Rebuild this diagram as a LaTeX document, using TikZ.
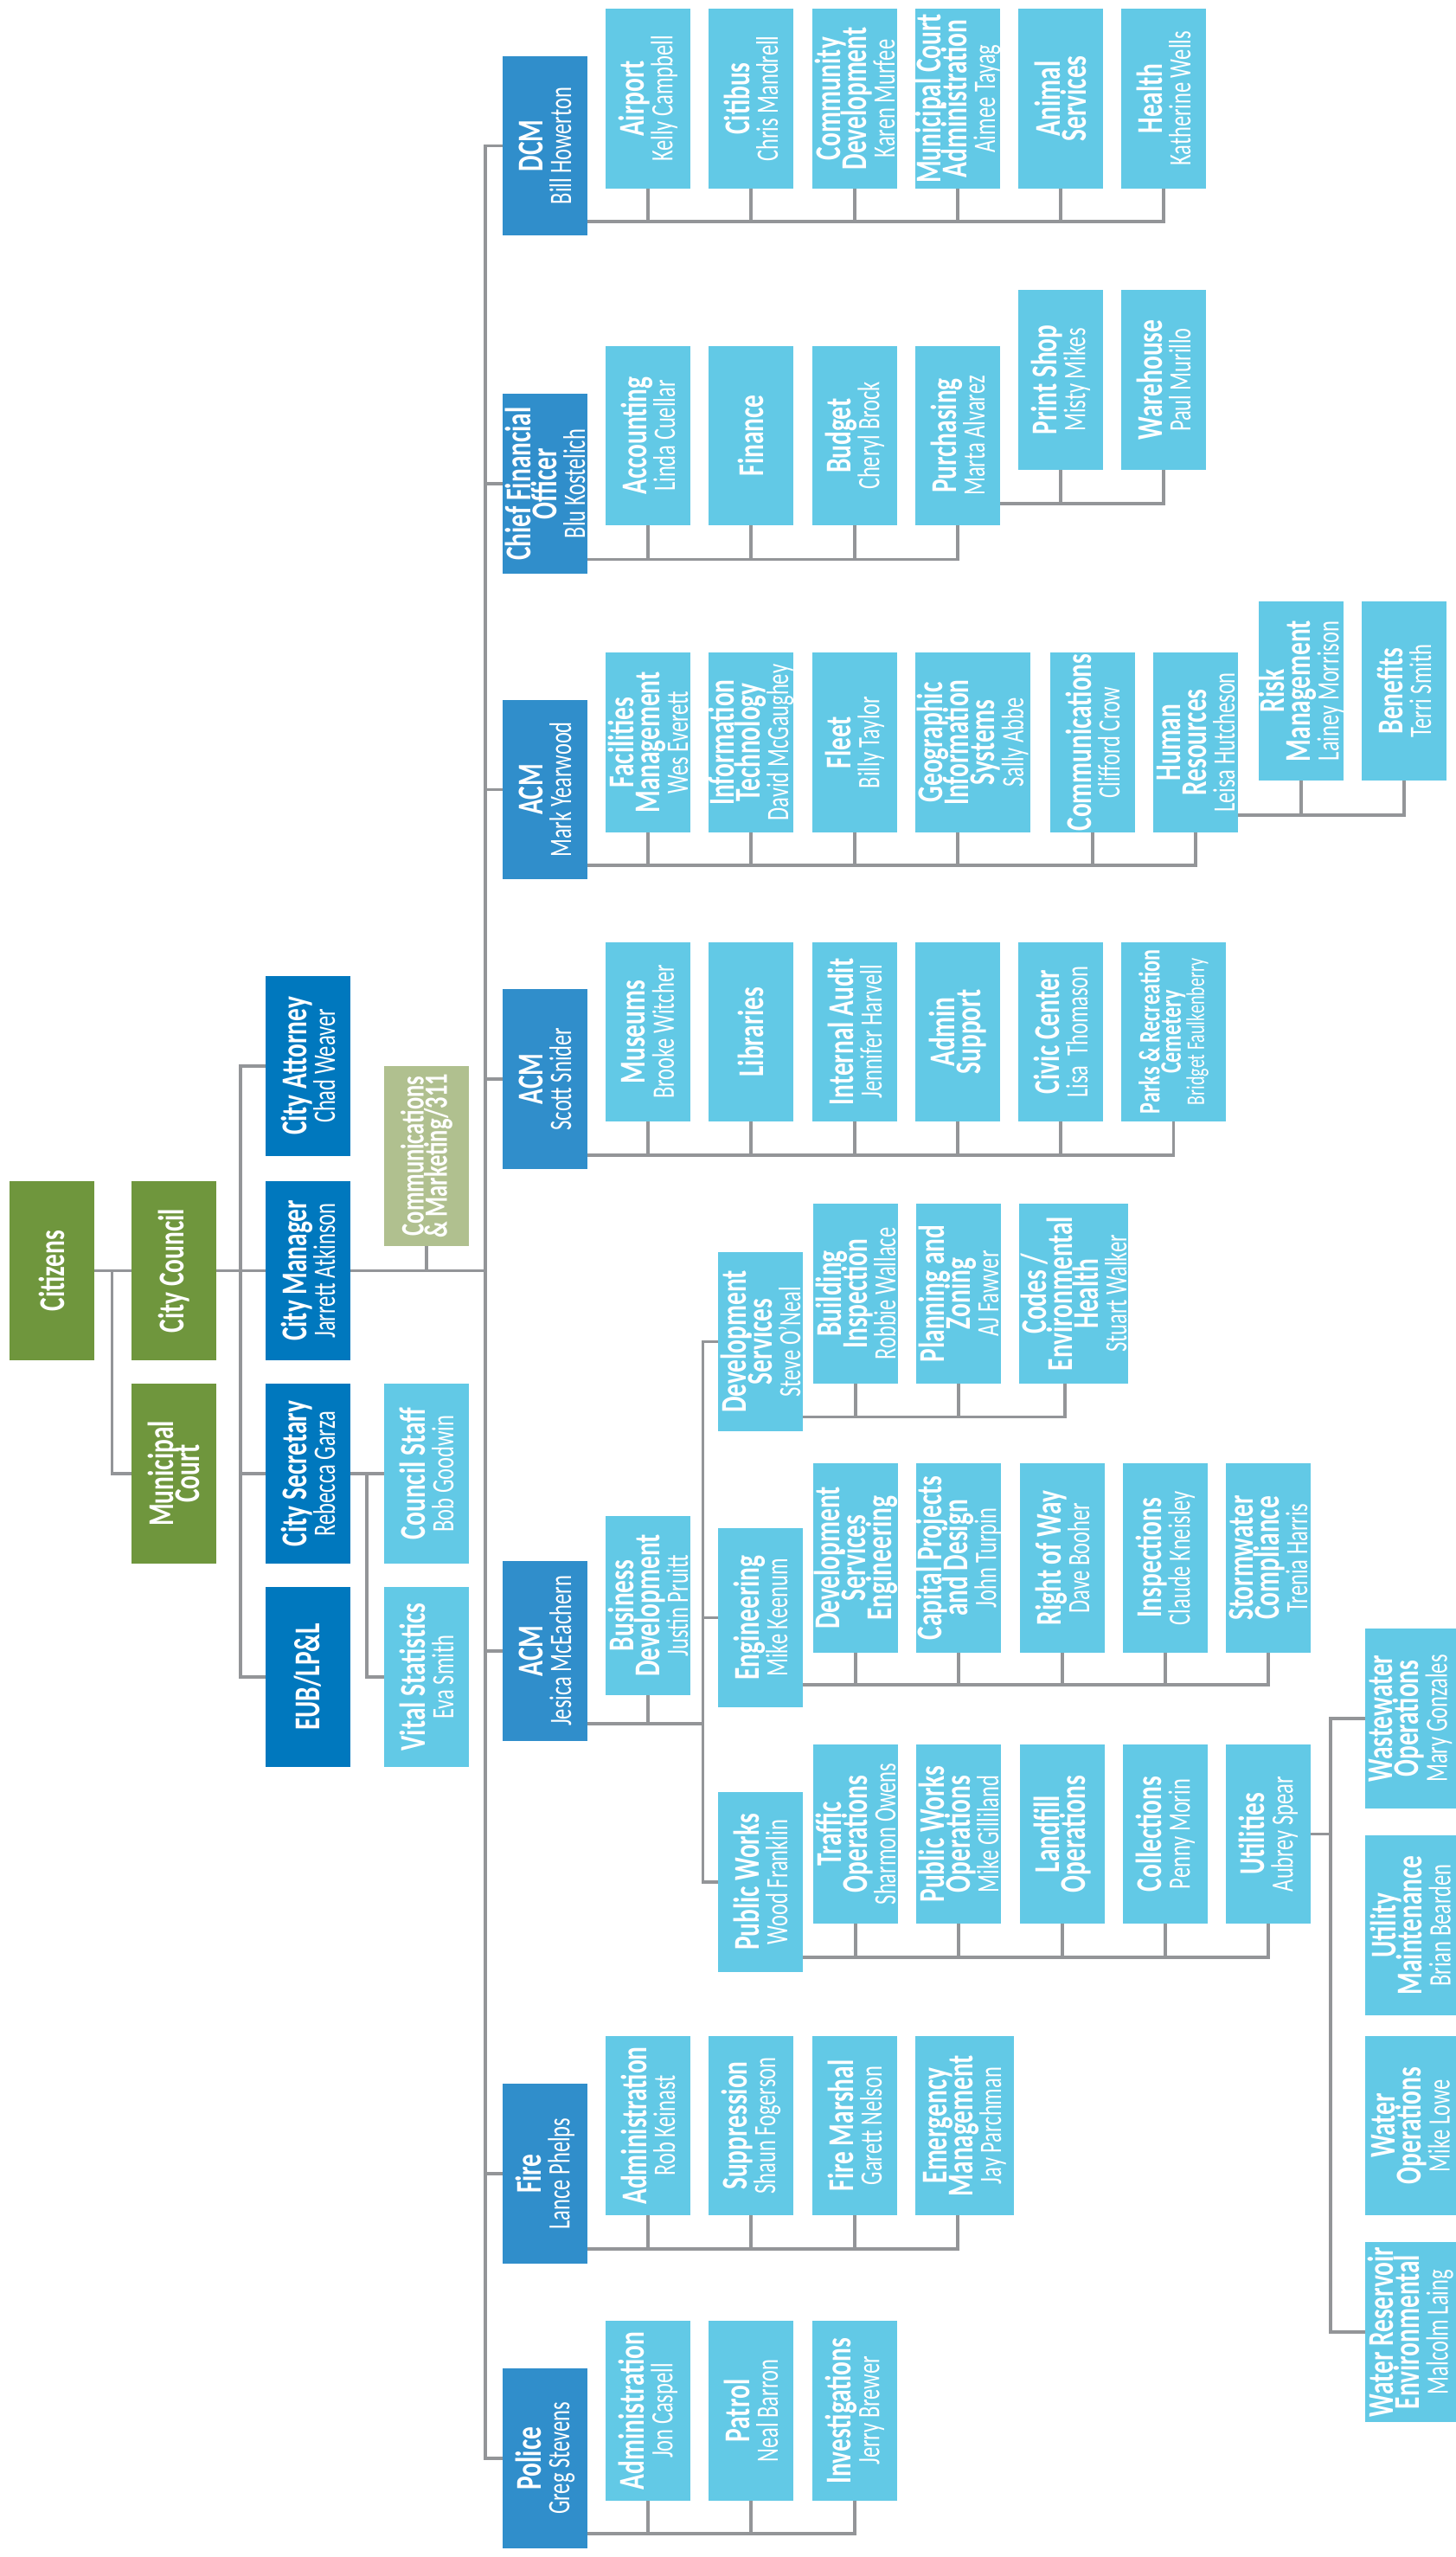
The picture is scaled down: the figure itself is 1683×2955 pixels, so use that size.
\documentclass[tikz,border=0pt]{standalone}
\usepackage{fontspec}
\setmainfont{Carlito}
\newfontfamily\titlefam{Carlito}[FakeStretch=0.70]
\newfontfamily\namefam{Carlito}[FakeStretch=0.68]
\definecolor{cgreen}{RGB}{111,150,61}
\definecolor{cdark}{RGB}{0,120,190}
\definecolor{cmid}{RGB}{48,142,203}
\definecolor{clight}{RGB}{98,201,230}
\definecolor{csage}{RGB}{176,192,143}
\definecolor{cline}{RGB}{147,149,152}
\newcommand\T[1]{{\titlefam\bfseries\fontsize{42}{30}\selectfont #1}}
\newcommand\namesize{\namefam\fontsize{36}{30}\selectfont\lineskiplimit=-100pt\relax\lineskip=0pt\relax}
\pgfdeclarelayer{bg}
\pgfsetlayers{bg,main}
\tikzset{
  box/.style={rectangle, inner sep=0pt, outer sep=0pt},
  gbox/.style={box, fill=cgreen},
  dbox/.style={box, fill=cdark},
  mbox/.style={box, fill=cmid},
  lbox/.style={box, fill=clight},
  sbox/.style={box, fill=csage},
  txt/.style={rotate=90, align=center, text=white, inner sep=0pt, font=\namesize},
  ln/.style={draw=cline, line width=3.5pt},
}
\newcommand\bx[8][]{%
  \node[#3, minimum width=#6pt-#4pt, minimum height=#7pt-#5pt] (#2) at ({(#4+#6)/2},{(#5+#7)/2}) {};
  \node[txt,#1] (#2-t) at (#2.center) {#8};}
\newcommand\bus[4]{%
  \coordinate (#1-bus) at ([yshift=#2pt]#1.south east);
  \draw[ln] (#1-bus) -| (#3);
  \foreach \p in {#4} \draw[ln] (\p) -- (\p |- #1-bus);}
\begin{document}
\begin{tikzpicture}[x=1pt,y=-1pt]
\useasboundingbox (0,0) rectangle (1683,2955);
% ---------- left part
\bx{citizens}{gbox}{11}{1365}{109}{1572}{\T{Citizens}}
\bx{council}{gbox}{152}{1365}{250}{1572}{\T{City Council}}
\bx{mcourt}{gbox}{152}{1599}{250}{1807}{\T{Municipal}\\\T{Court}}
\bx{attorney}{dbox}{307}{1128}{405}{1336}{\T{City Attorney}\\[3pt]Chad Weaver}
\bx{manager}{dbox}{307}{1365}{405}{1572}{\T{City Manager}\\[3pt]Jarrett Atkinson}
\bx{secretary}{dbox}{307}{1599}{405}{1807}{\T{City Secretary}\\[3pt]Rebecca Garza}
\bx{eub}{dbox}{307}{1834}{405}{2042}{\T{EUB/LP\&L}}
\bx[scale=0.9]{comm}{sbox}{444}{1232}{542}{1440}{\T{Communications}\\\T{\& Marketing/311}}
\bx{cstaff}{lbox}{444}{1599}{542}{1807}{\T{Council Staff}\\[3pt]Bob Goodwin}
\bx{vital}{lbox}{444}{1834}{542}{2042}{\T{Vital Statistics}\\[3pt]Eva Smith}
% ---------- level 3
\bx{dcm}{mbox}{581}{65}{679}{272}{\T{DCM}\\[3pt]Bill Howerton}
\bx{cfo}{mbox}{581}{455}{679}{663}{\T{Chief Financial}\\\T{Officer}\\[3pt]Blu Kostelich}
\bx{acma}{mbox}{581}{809}{679}{1016}{\T{ACM}\\[3pt]Mark Yearwood}
\bx{acmb}{mbox}{581}{1143}{679}{1351}{\T{ACM}\\[3pt]Scott Snider}
\bx{acmc}{mbox}{581}{1804}{679}{2012}{\T{ACM}\\[3pt]Jesica McEachern}
\bx{fire}{mbox}{581}{2408}{679}{2616}{\T{Fire}\\[3pt]Lance Phelps}
\bx{police}{mbox}{581}{2737}{679}{2945}{\T{Police}\\[3pt]Greg Stevens}
% ---------- DCM
\bx{airport}{lbox}{700}{10}{798}{218}{\T{Airport}\\[3pt]Kelly Campbell}
\bx{citibus}{lbox}{819}{10}{917}{218}{\T{Citibus}\\[3pt]Chris Mandrell}
\bx{comdev}{lbox}{939}{10}{1037}{218}{\T{Community}\\\T{Development}\\[3pt]Karen Murfee}
\bx{mcadmin}{lbox}{1058}{10}{1156}{218}{\T{Municipal Court}\\\T{Administration}\\[3pt]Aimee Tayag}
\bx{animal}{lbox}{1177}{10}{1275}{218}{\T{Animal}\\\T{Services}}
\bx{health}{lbox}{1296}{10}{1394}{218}{\T{Health}\\[3pt]Katherine Wells}
% ---------- CFO
\bx{accounting}{lbox}{700}{400}{798}{607}{\T{Accounting}\\[3pt]Linda Cuellar}
\bx{finance}{lbox}{819}{400}{917}{607}{\T{Finance}}
\bx{budget}{lbox}{939}{400}{1037}{607}{\T{Budget}\\[3pt]Cheryl Brock}
\bx{purchasing}{lbox}{1058}{400}{1156}{607}{\T{Purchasing}\\[3pt]Marta Alvarez}
\bx{printshop}{lbox}{1177}{335}{1275}{543}{\T{Print Shop}\\[3pt]Misty Mikes}
\bx{warehouse}{lbox}{1296}{335}{1394}{543}{\T{Warehouse}\\[3pt]Paul Murillo}
% ---------- ACM Yearwood
\bx{facilities}{lbox}{700}{754}{798}{962}{\T{Facilities}\\\T{Management}\\[3pt]Wes Everett}
\bx{infotech}{lbox}{819}{754}{917}{962}{\T{Information}\\\T{Technology}\\[3pt]David McGaughey}
\bx{fleet}{lbox}{939}{754}{1037}{962}{\T{Fleet}\\[3pt]Billy Taylor}
\bx{gis}{lbox}{1058}{754}{1191}{962}{\T{Geographic}\\\T{Information}\\\T{Systems}\\[3pt]Sally Abbe}
\bx{commun}{lbox}{1214}{754}{1312}{962}{\T{Communications}\\[3pt]Clifford Crow}
\bx{hr}{lbox}{1333}{754}{1431}{962}{\T{Human}\\\T{Resources}\\[3pt]Leisa Hutcheson}
\bx{risk}{lbox}{1455}{695}{1553}{902}{\T{Risk}\\\T{Management}\\[3pt]Lainey Morrison}
\bx{benefits}{lbox}{1574}{695}{1672}{902}{\T{Benefits}\\[3pt]Terri Smith}
% ---------- ACM Snider
\bx{museums}{lbox}{700}{1089}{798}{1296}{\T{Museums}\\[3pt]Brooke Witcher}
\bx{libraries}{lbox}{819}{1089}{917}{1296}{\T{Libraries}}
\bx{audit}{lbox}{939}{1089}{1037}{1296}{\T{Internal Audit}\\[3pt]Jennifer Harvell}
\bx{adminsup}{lbox}{1058}{1089}{1156}{1296}{\T{Admin}\\\T{Support}}
\bx{civic}{lbox}{1177}{1089}{1275}{1296}{\T{Civic Center}\\[3pt]Lisa~~Thomason}
\bx[scale=0.82]{parks}{lbox}{1296}{1089}{1417}{1296}{\T{Parks \& Recreation}\\\T{Cemetery}\\[3pt]Bridget Faulkenberry}
% ---------- ACM McEachern
\bx{busdev}{lbox}{700}{1752}{798}{1959}{\T{Business}\\\T{Development}\\[3pt]Justin Pruitt}
\bx{devserv}{lbox}{830}{1447}{928}{1654}{\T{Development}\\\T{Services}\\[3pt]Steve O’Neal}
\bx{eng}{lbox}{830}{1766}{928}{1973}{\T{Engineering}\\[3pt]Mike Keenum}
\bx{pw}{lbox}{830}{2071}{928}{2279}{\T{Public Works}\\[3pt]Wood Franklin}
\bx{bldg}{lbox}{940}{1391}{1038}{1599}{\T{Building}\\\T{Inspection}\\[3pt]Robbie Wallace}
\bx{plan}{lbox}{1059}{1391}{1157}{1599}{\T{Planning and}\\\T{Zoning}\\[3pt]AJ Fawver}
\bx{codes}{lbox}{1178}{1391}{1304}{1599}{\T{Codes /}\\\T{Environmental}\\\T{Health}\\[3pt]Stuart Walker}
\bx{dse}{lbox}{940}{1691}{1038}{1910}{\T{Development}\\\T{Services}\\\T{Engineering}}
\bx{cpd}{lbox}{1059}{1691}{1157}{1910}{\T{Capital Projects}\\\T{and Design}\\[3pt]John Turpin}
\bx{row}{lbox}{1179}{1691}{1277}{1910}{\T{Right of Way}\\[3pt]Dave Booher}
\bx{insp}{lbox}{1298}{1691}{1396}{1910}{\T{Inspections}\\[3pt]Claude Kneisley}
\bx{storm}{lbox}{1417}{1691}{1515}{1910}{\T{Stormwater}\\\T{Compliance}\\[3pt]Trenia Harris}
\bx{traffic}{lbox}{940}{2016}{1038}{2223}{\T{Traffic}\\\T{Operations}\\[3pt]Sharmon Owens}
\bx{pwops}{lbox}{1059}{2016}{1157}{2223}{\T{Public Works}\\\T{Operations}\\[3pt]Mike Gilliland}
\bx{landfill}{lbox}{1179}{2016}{1277}{2223}{\T{Landfill}\\\T{Operations}}
\bx{collections}{lbox}{1298}{2016}{1396}{2223}{\T{Collections}\\[3pt]Penny Morin}
\bx{utilities}{lbox}{1417}{2016}{1515}{2223}{\T{Utilities}\\[3pt]Aubrey Spear}
\bx{wastewater}{lbox}{1578}{1882}{1683}{2090}{\T{Wastewater}\\\T{Operations}\\[3pt]Mary Gonzales}
\bx{umaint}{lbox}{1578}{2121}{1683}{2329}{\T{Utility}\\\T{Maintenance}\\[3pt]Brian Bearden}
\bx{waterops}{lbox}{1578}{2353}{1683}{2560}{\T{Water}\\\T{Operations}\\[3pt]Mike Lowe}
\bx{reservoir}{lbox}{1578}{2591}{1683}{2799}{\T{Water Reservoir}\\\T{Environmental}\\[3pt]Malcolm Laing}
% ---------- Fire
\bx{fadmin}{lbox}{700}{2353}{798}{2560}{\T{Administration}\\[3pt]Rob Keinast}
\bx{suppression}{lbox}{819}{2353}{917}{2560}{\T{Suppression}\\[3pt]Shaun Fogerson}
\bx{marshal}{lbox}{939}{2353}{1037}{2560}{\T{Fire Marshal}\\[3pt]Garett Nelson}
\bx{emerg}{lbox}{1058}{2353}{1172}{2560}{\T{Emergency}\\\T{Management}\\[3pt]Jay Parchman}
% ---------- Police
\bx{padmin}{lbox}{700}{2682}{798}{2890}{\T{Administration}\\[3pt]Jon Caspell}
\bx{patrol}{lbox}{819}{2682}{917}{2890}{\T{Patrol}\\[3pt]Neal Barron}
\bx{investig}{lbox}{939}{2682}{1037}{2890}{\T{Investigations}\\[3pt]Jerry Brewer}
% ---------- connectors
\begin{pgfonlayer}{bg}
\fill[white] (0,0) rectangle (1683,2955);
\coordinate (tk) at (561,0);
\coordinate (lb) at (278,0);
\coordinate (cb) at (129.5,0);
\coordinate (sb) at (424,0);
\coordinate (mcv) at (812.5,0);
\coordinate (uv) at (1538,0);
\coordinate (gis-s) at ([xshift=-17.5pt]gis.south);
\coordinate (codes-s) at ([xshift=-10pt]codes.south);
\coordinate (emerg-s) at ([xshift=-8pt]emerg.south);
\draw[ln] (citizens.east) -- (citizens.east -| tk);
\draw[ln] (cb |- citizens.east) |- (mcourt.west);
\draw[ln] (attorney.west) -| (lb |- eub.west) -- (eub.west);
\draw[ln] (secretary.west) -- (secretary.west -| lb);
\draw[ln] (comm.south) -- (comm.south |- citizens.east);
\draw[ln] (secretary.east) -- (cstaff.west);
\draw[ln] (sb |- secretary.east) |- (vital.west);
\draw[ln] (dcm.west) -| (tk |- police.west) -- (police.west);
\foreach \n in {cfo,acma,acmb,acmc,fire} \draw[ln] (\n.west) -- (\n.west -| tk);
\bus{dcm}{16}{health.south}{airport.south,citibus.south,comdev.south,mcadmin.south,animal.south}
\bus{cfo}{16.5}{purchasing.south}{accounting.south,finance.south,budget.south}
\bus{purchasing}{25}{warehouse.south}{printshop.south}
\bus{acma}{16}{hr.south}{facilities.south,infotech.south,fleet.south,gis-s,commun.south}
\bus{hr}{20}{benefits.south}{risk.south}
\bus{acmb}{16}{parks.south}{museums.south,libraries.south,audit.south,adminsup.south,civic.south}
\coordinate (acmc-bus) at ([yshift=20pt]acmc.south east);
\draw[ln] (acmc-bus) -- (acmc-bus -| mcv);
\draw[ln] (busdev.south) -- (busdev.south |- acmc-bus);
\draw[ln] (devserv.west) -| (mcv |- pw.west) -- (pw.west);
\draw[ln] (eng.west) -- (eng.west -| mcv);
\bus{devserv}{16.5}{codes-s}{bldg.south,plan.south}
\bus{eng}{26}{storm.south}{dse.south,cpd.south,row.south,insp.south}
\bus{pw}{17}{utilities.south}{traffic.south,pwops.south,landfill.south,collections.south}
\draw[ln] (utilities.east) -- (utilities.east -| uv);
\draw[ln] (wastewater.west) -| (uv |- reservoir.west) -- (reservoir.west);
\bus{fire}{17}{emerg-s}{fadmin.south,suppression.south,marshal.south}
\bus{police}{17}{investig.south}{padmin.south,patrol.south}
\end{pgfonlayer}
\end{tikzpicture}
\end{document}
